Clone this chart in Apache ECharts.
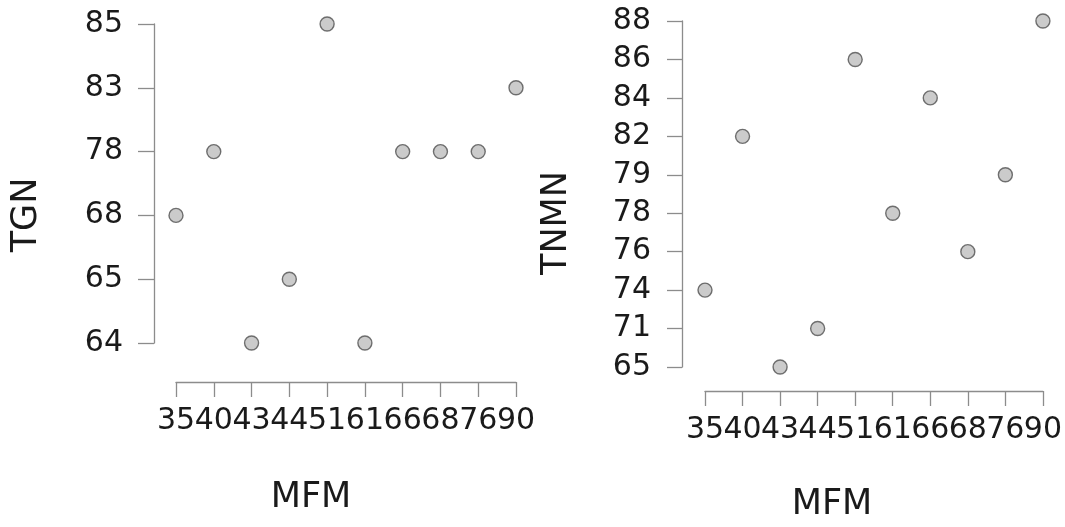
<!DOCTYPE html>
<html>
<head>
<meta charset="utf-8">
<script src="https://cdn.jsdelivr.net/npm/echarts@6/dist/echarts.min.js"></script>
<style>
  html, body { margin: 0; padding: 0; background: #fff; }
  #chart { width: 1065px; height: 527px; }
</style>
</head>
<body>
<div id="chart"></div>
<script>
// shared x categories (MFM)
const mfm = ["35", "40", "43", "44", "51", "61", "66", "68", "76", "90"];

// left panel: TGN
const tgnTicks = ["64", "65", "68", "78", "83", "85"];
const tgn = ["68", "78", "64", "65", "85", "64", "78", "78", "78", "83"];

// right panel: TNMN
const tnmnTicks = ["65", "71", "74", "76", "78", "79", "82", "84", "86", "88"];
const tnmn = ["74", "82", "65", "71", "86", "78", "84", "76", "79", "88"];

const font = "DejaVu Sans";
const axisGray = "#8c8c8c";

function xAxis(gridIndex, offset, gap, shift) {
  return {
    type: "category",
    gridIndex,
    data: mfm,
    boundaryGap: false,
    offset,
    axisLine: { show: true, lineStyle: { color: axisGray, width: 1.3 } },
    axisTick: { show: true, interval: 0, length: 15, lineStyle: { color: axisGray, width: 1.3 } },
    axisLabel: { color: "#1a1a1a", fontFamily: font, fontSize: 30, margin: 24, interval: 0 },
    splitLine: { show: false },
    name: "MFM",
    nameLocation: "middle",
    nameGap: gap,
    nameTextStyle: { color: "#1a1a1a", fontFamily: font, fontSize: 35, padding: [0, shift, 0, 0] },
  };
}

function yAxis(gridIndex, ticks, offset, name, gap, shift, tick) {
  return {
    type: "category",
    gridIndex,
    data: ticks,
    boundaryGap: false,
    offset,
    axisLine: { show: true, lineStyle: { color: axisGray, width: 1.3 } },
    axisTick: { show: true, interval: 0, length: tick, lineStyle: { color: axisGray, width: 1.3 } },
    axisLabel: { color: "#1a1a1a", fontFamily: font, fontSize: 30, margin: 31, interval: 0 },
    splitLine: { show: false },
    name,
    nameLocation: "middle",
    nameGap: gap,
    nameTextStyle: { color: "#1a1a1a", fontFamily: font, fontSize: 35, padding: [0, shift, 0, 0] },
  };
}

const pointStyle = {
  type: "scatter",
  symbol: "circle",
  symbolSize: 14,
  itemStyle: { color: "#bebebe", borderColor: "#505050", borderWidth: 1.4 },
  emphasis: { disabled: true },
};

const chart = echarts.init(document.getElementById("chart"));
chart.setOption({
  animation: false,
  backgroundColor: "#ffffff",
  grid: [
    { left: 176, right: 549, top: 24, bottom: 184 },
    { left: 705, right: 19, top: 21, bottom: 154 },
  ],
  xAxis: [xAxis(0, 39, 98, 70), xAxis(1, 24, 96, 84)],
  yAxis: [
    yAxis(0, tgnTicks, 22, "TGN", 110, 63, 16),
    yAxis(1, tnmnTicks, 23, "TNMN", 108, 58, 15),
  ],
  series: [
    { ...pointStyle, xAxisIndex: 0, yAxisIndex: 0, data: mfm.map((m, i) => [m, tgn[i]]) },
    { ...pointStyle, xAxisIndex: 1, yAxisIndex: 1, data: mfm.map((m, i) => [m, tnmn[i]]) },
  ],
});
</script>
</body>
</html>
